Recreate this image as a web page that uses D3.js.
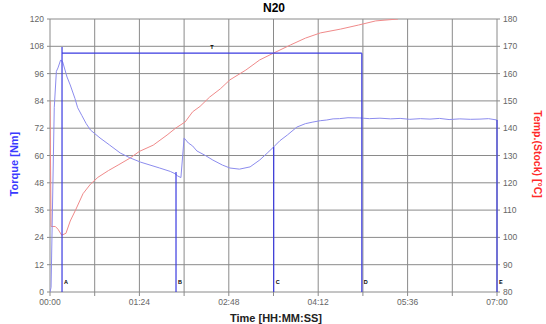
<!DOCTYPE html>
<html>
<head>
<meta charset="utf-8">
<script src="https://cdn.jsdelivr.net/npm/d3@7"></script>
<style>
  body { margin: 0; background: #fff; }
  svg { display: block; font-family: "Liberation Sans", Arial, sans-serif; }
</style>
</head>
<body>
<div id="chart"></div>
<script>
// time in seconds, torque in Nm
const torqueTime = [0, 1, 4, 6, 7.5, 10, 12, 16, 19, 23.5, 26, 30, 34, 38, 47, 56, 66, 75, 85, 94, 103, 113, 117.5, 120, 123,
  126, 130, 134, 138, 146, 153, 162, 169, 178, 188, 197, 204, 210, 216, 223, 232, 240, 247, 254, 260, 266, 272, 280, 291,
  300, 310, 320, 329, 338, 348, 357, 366, 375, 385, 395, 404, 412, 420];
const torque = [0, 2, 81, 97, 98.5, 102, 101, 94.5, 91, 85, 81, 77.5, 74, 71.2, 67.7, 64.6, 61.1, 59, 57.1, 55.8, 54.5, 53, 52, 51, 50.3,
  67.7, 65.5, 64.2, 62, 60, 58, 55.8, 54.5, 54, 55, 58, 61, 63.7, 66.5, 69, 72.5, 74, 74.7, 75.3, 75.6, 76.1, 76.2, 76.6, 76.5,
  76.2, 76.4, 76.1, 76.3, 75.9, 76.2, 76.0, 76.3, 75.8, 76.1, 75.9, 76.0, 76.2, 75.6];

// time in seconds, stock temperature in °C
const tempTime = [0, 1, 5, 7.5, 11, 15, 19, 24, 31, 38, 45, 55, 64, 75, 84, 97, 110, 118, 127, 134, 141, 150, 160, 169, 184,
  197, 210, 226, 240, 254, 273, 290, 306, 327];
const temp = [150, 104, 104, 103, 100.8, 101.5, 106, 110, 116, 119.5, 122, 124.5, 126.5, 129, 131.5, 133.8, 137.5, 140, 142.3, 146, 148,
  151.4, 154.4, 157.7, 161.3, 165, 167.5, 170.5, 173, 174.9, 176.3, 177.8, 179.3, 180];

// marker lines: name, time (s), top torque (Nm)
const markerNames = ['A', 'B', 'C', 'D', 'E'];
const markerTime = [11.3, 118.4, 210.2, 293, 420];
const markerTop = [107.7, 52.7, 63.7, 105, 75.6];
const spanLevel = 105;

const torqueTicks = d3.range(0, 121, 12);
const tempTicks = d3.range(80, 181, 10);
const timeTicks = [0, 84, 168, 252, 336, 420];
const timeGrid = d3.range(0, 421, 42);

const width = 546;
const height = 324;
const margin = { top: 19, right: 49, bottom: 32, left: 50 };
const innerW = width - margin.left - margin.right;
const innerH = height - margin.top - margin.bottom;

const svg = d3.select('#chart').append('svg')
  .attr('width', width)
  .attr('height', height);

const x = d3.scaleLinear().domain([0, 420]).range([margin.left, margin.left + innerW]);
const yT = d3.scaleLinear().domain([0, 120]).range([margin.top + innerH, margin.top]);
const yC = d3.scaleLinear().domain([80, 180]).range([margin.top + innerH, margin.top]);

const fmtTime = s => d3.format('02d')(Math.floor(s / 60)) + ':' + d3.format('02d')(s % 60);

// title
svg.append('text')
  .attr('x', 274).attr('y', 12)
  .attr('text-anchor', 'middle')
  .attr('font-size', 12).attr('font-weight', 'bold')
  .text('N20');

// grid
svg.append('g')
  .selectAll('line')
  .data(torqueTicks)
  .join('line')
  .attr('x1', margin.left - 3).attr('x2', margin.left + innerW + 3)
  .attr('y1', d => yT(d)).attr('y2', d => yT(d))
  .attr('stroke', '#8a8a8a').attr('stroke-width', 1);

svg.append('g')
  .selectAll('line')
  .data(timeGrid)
  .join('line')
  .attr('x1', d => x(d)).attr('x2', d => x(d))
  .attr('y1', margin.top).attr('y2', margin.top + innerH + 4)
  .attr('stroke', '#8a8a8a').attr('stroke-width', 1);

// axes labels
const tickStyle = sel => sel.attr('font-size', 8.5).attr('fill', '#666');

svg.append('g')
  .selectAll('text')
  .data(torqueTicks)
  .join('text')
  .attr('x', margin.left - 6).attr('y', d => yT(d) + 3)
  .attr('text-anchor', 'end')
  .text(d => d)
  .call(tickStyle);

svg.append('g')
  .selectAll('text')
  .data(tempTicks)
  .join('text')
  .attr('x', margin.left + innerW + 6).attr('y', d => yC(d) + 3)
  .text(d => d)
  .call(tickStyle);

svg.append('g')
  .selectAll('text')
  .data(timeTicks)
  .join('text')
  .attr('x', d => x(d)).attr('y', margin.top + innerH + 13)
  .attr('text-anchor', 'middle')
  .text(d => fmtTime(d))
  .call(tickStyle);

svg.append('text')
  .attr('x', 276).attr('y', 322)
  .attr('text-anchor', 'middle')
  .attr('font-size', 11).attr('font-weight', 'bold').attr('fill', '#222')
  .text('Time [HH:MM:SS]');

svg.append('text')
  .attr('transform', 'translate(18,164) rotate(-90)')
  .attr('text-anchor', 'middle')
  .attr('font-size', 11).attr('font-weight', 'bold').attr('fill', '#3a3aff')
  .text('Torque [Nm]');

svg.append('text')
  .attr('transform', 'translate(534,154) rotate(90)')
  .attr('text-anchor', 'middle')
  .attr('font-size', 10.5).attr('font-weight', 'bold').attr('fill', '#ff2a2a')
  .text('Temp.(Stock) [°C]');

// clip to plot area
svg.append('clipPath').attr('id', 'plot')
  .append('rect')
  .attr('x', margin.left).attr('y', margin.top)
  .attr('width', innerW).attr('height', innerH);

const plot = svg.append('g').attr('clip-path', 'url(#plot)');

plot.append('path')
  .datum(d3.zip(tempTime, temp))
  .attr('fill', 'none')
  .attr('stroke', '#f08a8a').attr('stroke-width', 1)
  .attr('d', d3.line().x(d => x(d[0])).y(d => yC(d[1])));

plot.append('path')
  .datum(d3.zip(torqueTime, torque))
  .attr('fill', 'none')
  .attr('stroke', '#8c8cee').attr('stroke-width', 1)
  .attr('d', d3.line().x(d => x(d[0])).y(d => yT(d[1])));

// markers
const markers = d3.zip(markerNames, markerTime, markerTop);

svg.append('g')
  .selectAll('line')
  .data(markers)
  .join('line')
  .attr('x1', d => x(d[1])).attr('x2', d => x(d[1]))
  .attr('y1', d => yT(d[2])).attr('y2', yT(0))
  .attr('stroke', '#3a3ae0').attr('stroke-width', 1.2);

svg.append('line')
  .attr('x1', x(markerTime[0])).attr('x2', x(markerTime[3]))
  .attr('y1', yT(spanLevel)).attr('y2', yT(spanLevel))
  .attr('stroke', '#3a3ae0').attr('stroke-width', 1.2);

svg.append('g')
  .selectAll('text')
  .data(markers)
  .join('text')
  .attr('x', d => x(d[1]) + 2).attr('y', yT(0) - 8)
  .attr('font-size', 5.5).attr('font-weight', 'bold')
  .text(d => d[0]);

svg.append('text')
  .attr('x', (x(markerTime[0]) + x(markerTime[3])) / 2).attr('y', yT(spanLevel) - 4)
  .attr('text-anchor', 'middle')
  .attr('font-size', 5.5).attr('font-weight', 'bold')
  .text('T');
</script>
</body>
</html>
